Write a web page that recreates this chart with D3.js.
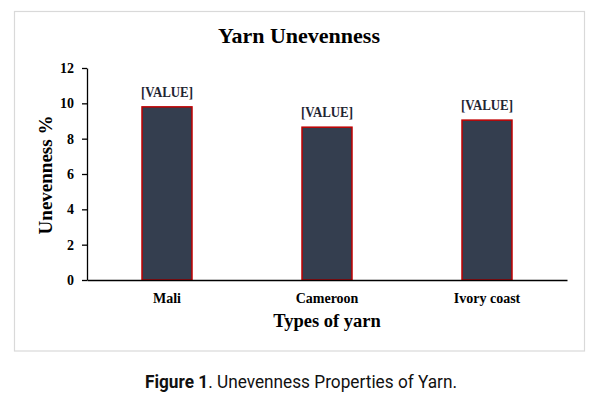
<!DOCTYPE html>
<html lang="en">
<head>
	<meta charset="UTF-8">
	<title>Yarn Unevenness</title>
	<style>
		body { margin: 0; background: #fff; }
		svg { display: block; }
	</style>
</head>
<body>
	<svg width="601" height="399"></svg>

	<script src="https://d3js.org/d3.v7.min.js"></script>
	<script>
		// data
		var categories = ["Mali", "Cameroon", "Ivory coast"];
		var values = [9.8, 8.65, 9.05];
		var labels = ["[VALUE]", "[VALUE]", "[VALUE]"];
		var yTicks = [0, 2, 4, 6, 8, 10, 12];

		var svg = d3.select("svg");
		var serif = "'Liberation Serif', 'Times New Roman', serif";

		// light frame around the chart
		svg.append("rect")
			.attr("x", 14.5).attr("y", 11.5)
			.attr("width", 570).attr("height", 339.5)
			.attr("fill", "#fff")
			.attr("stroke", "#d9d9d9")
			.attr("stroke-width", 1.2);

		var x = d3.scaleBand()
			.domain(categories)
			.range([87, 567])
			.paddingInner(0.6875)
			.paddingOuter(0.34375);

		var y = d3.scaleLinear()
			.domain([0, 12])
			.range([280, 68]);

		// y axis
		var yAxis = svg.append("g")
			.attr("transform", "translate(87,0)")
			.call(d3.axisLeft(y).tickValues(yTicks).tickSize(5).tickPadding(8).tickSizeOuter(0));
		yAxis.select(".domain").attr("stroke", "#000").attr("stroke-width", 1.3);
		yAxis.selectAll(".tick line").attr("stroke", "#000").attr("stroke-width", 1.3);
		yAxis.selectAll("text")
			.attr("font-family", serif)
			.attr("font-weight", "bold")
			.attr("font-size", 14)
			.attr("fill", "#000");

		// bars
		svg.append("g").selectAll("rect")
			.data(values)
			.enter()
			.append("rect")
			.attr("x", function(d, i){ return x(categories[i]); })
			.attr("y", function(d){ return y(d); })
			.attr("width", x.bandwidth())
			.attr("height", function(d){ return y(0) - y(d); })
			.attr("fill", "#343e4f")
			.attr("stroke", "#c00000")
			.attr("stroke-width", 1.5);

		// bar labels
		svg.append("g").selectAll("text")
			.data(values)
			.enter()
			.append("text")
			.attr("x", function(d, i){ return x(categories[i]) + x.bandwidth() / 2; })
			.attr("y", function(d){ return y(d) - 10; })
			.attr("text-anchor", "middle")
			.attr("font-family", serif)
			.attr("font-weight", "bold")
			.attr("font-size", 14)
			.attr("fill", "#1f2533")
			.attr("textLength", 52)
			.attr("lengthAdjust", "spacingAndGlyphs")
			.text(function(d, i){ return labels[i]; });

		// x axis
		var xAxis = svg.append("g")
			.attr("transform", "translate(0,280)")
			.call(d3.axisBottom(x).tickSize(0).tickPadding(13));
		xAxis.select(".domain").attr("stroke", "#000").attr("stroke-width", 1.3);
		xAxis.selectAll("text")
			.attr("font-family", serif)
			.attr("font-weight", "bold")
			.attr("font-size", 14)
			.attr("fill", "#000");

		// titles
		svg.append("text")
			.attr("x", 299).attr("y", 43)
			.attr("text-anchor", "middle")
			.attr("font-family", serif)
			.attr("font-weight", "bold")
			.attr("font-size", 22)
			.text("Yarn Unevenness");

		svg.append("text")
			.attr("x", 327).attr("y", 327)
			.attr("text-anchor", "middle")
			.attr("font-family", serif)
			.attr("font-weight", "bold")
			.attr("font-size", 18.5)
			.text("Types of yarn");

		svg.append("text")
			.attr("transform", "translate(52,175) rotate(-90)")
			.attr("text-anchor", "middle")
			.attr("font-family", serif)
			.attr("font-weight", "bold")
			.attr("font-size", 19)
			.text("Unevenness %");

		// caption below the frame
		var cap = svg.append("text")
			.attr("x", 145).attr("y", 388)
			.attr("font-family", "Roboto, 'Noto Sans', sans-serif")
			.attr("font-size", 19)
			.attr("fill", "#111")
			.attr("textLength", 312)
			.attr("lengthAdjust", "spacingAndGlyphs");
		cap.append("tspan").attr("font-weight", "bold").text("Figure 1");
		cap.append("tspan").text(". Unevenness Properties of Yarn.");
	</script>
</body>
</html>
